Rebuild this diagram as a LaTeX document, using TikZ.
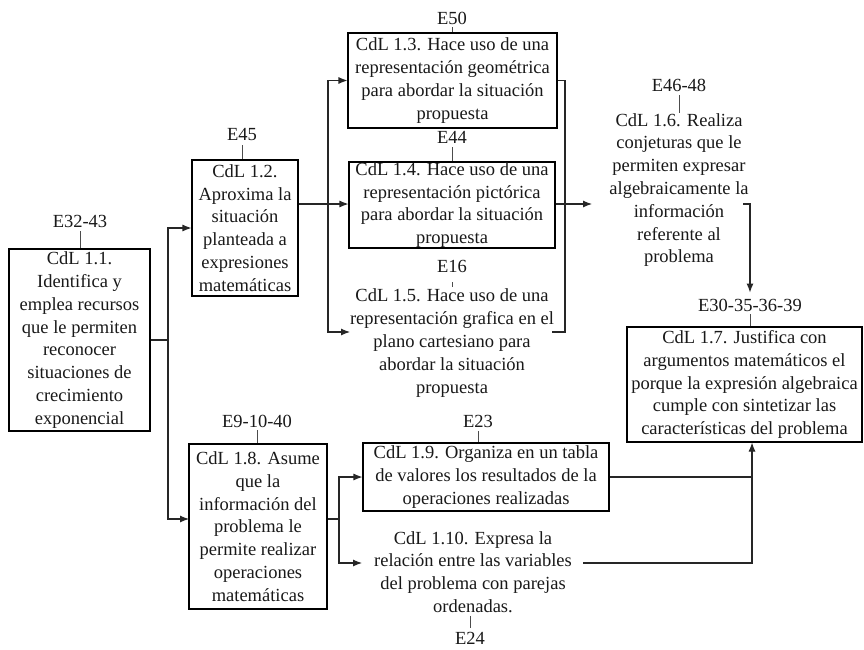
\documentclass[tikz,border=0pt]{standalone}
\usepackage{fontspec}
\setmainfont{Liberation Serif}
\usetikzlibrary{arrows.meta}
\begin{document}
\begin{tikzpicture}[x=1pt,y=-1pt,
  every node/.style={font=\fontsize{18.5}{22.8}\selectfont, align=center, inner sep=0pt, text=black!90},
  cbox/.style={draw=black, line width=1.1pt, rectangle},
  tick/.style={draw=black!70, line width=0.9pt},
  conn/.style={draw=black!85, line width=1.1pt},
  arr/.style={conn, -{Latex[length=9pt,width=7pt]}}]
\path[use as bounding box] (0,0) rectangle (864,650);
\fill[white] (0,0) rectangle (864,650);

% boxes and texts
\node[cbox, minimum width=141pt, minimum height=182pt] (b11) at (79.5,340) {CdL 1.1.\\Identifica y\\emplea recursos\\que le permiten\\reconocer\\situaciones de\\crecimiento\\exponencial};
\node[cbox, minimum width=106pt, minimum height=136pt] (b12) at (245,228) {CdL 1.2.\\Aproxima la\\situación\\planteada a\\expresiones\\matemáticas};
\node[cbox, minimum width=209pt, minimum height=95pt] (b13) at (452.5,80.5) {CdL 1.3. Hace uso de una\\representación geométrica\\para abordar la situación\\propuesta};
\node[cbox, minimum width=206pt, minimum height=86pt] (b14) at (452,205) {CdL 1.4. Hace uso de una\\representación pictórica\\para abordar la situación\\propuesta};
\node (n15) at (452,343) {CdL 1.5. Hace uso de una\\representación grafica en el\\plano cartesiano para\\abordar la situación\\propuesta};
\node (n16) at (679,190) {CdL 1.6. Realiza\\conjeturas que le\\permiten expresar\\algebraicamente la\\información\\referente al\\problema};
\node[cbox, minimum width=235pt, minimum height=115pt] (b17) at (744.5,384.5) {CdL 1.7. Justifica con\\argumentos matemáticos el\\porque la expresión algebraica\\cumple con sintetizar las\\características del problema};
\node[cbox, minimum width=138pt, minimum height=165pt] (b18) at (258,526.5) {CdL 1.8. Asume\\que la\\información del\\problema le\\permite realizar\\operaciones\\matemáticas};
\node[cbox, minimum width=246pt, minimum height=68pt] (b19) at (486,477) {CdL 1.9. Organiza en un tabla\\de valores los resultados de la\\operaciones realizadas};
\node (n110) at (473,572) {CdL 1.10. Expresa la\\relación entre las variables\\del problema con parejas\\ordenadas.};

% labels
\node (e1) at (80,221) {E32-43};
\node (e2) at (242,135) {E45};
\node (e3) at (452,18) {E50};
\node (e4) at (452,137) {E44};
\node (e5) at (452,266) {E16};
\node (e6) at (679,85) {E46-48};
\node (e7) at (750,305) {E30-35-36-39};
\node (e8) at (257,421) {E9-10-40};
\node (e9) at (478,421) {E23};
\node (e10) at (470,638) {E24};

% ticks
\draw[tick, shorten <=4pt] (e1.south) -- (e1.south |- b11.north);
\draw[tick, shorten <=4pt] (e2.south) -- (e2.south |- b12.north);
\draw[tick, shorten <=3pt] (e3.south) -- (e3.south |- b13.north);
\draw[tick, shorten <=4pt] (e4.south) -- (e4.south |- b14.north);
\draw[tick, shorten <=10pt, shorten >=2pt] (e5.south) -- (e5.south |- n15.north);
\draw[tick, shorten <=4pt] (e6.south) -- (e6.south |- n16.north);
\draw[tick, shorten <=3pt] (e7.south) -- (e7.south |- b17.north);
\draw[tick, shorten <=3pt] (e8.south) -- (e8.south |- b18.north);
\draw[tick, shorten <=4pt] (e9.south) -- (e9.south |- b19.north);
\draw[tick, shorten <=3pt, shorten >=4pt] (n110.south -| e10.north) -- (e10.north);

% coordinates
\coordinate (bus1) at (168,0);
\coordinate (bus2) at (328,0);
\coordinate (bus3) at (565,0);
\coordinate (bus4) at (339,0);
\coordinate (bus5) at (752,0);
\coordinate (in18) at (189,519);
\coordinate (in15) at (350,332);
\coordinate (out15) at (552,332);
\coordinate (in16) at (592,204);
\coordinate (out16) at (743,204);
\coordinate (in110) at (362,563);
\coordinate (out110) at (583,563);

% connectors
\draw[conn] (b11.east) -- (b11.east -| bus1);
\draw[arr] (b11.east -| bus1) |- (b12.west);
\draw[arr] (b11.east -| bus1) |- (in18);

\draw[arr] (b12.east |- in16) -- (b14.west |- in16);
\draw[arr] (in16 -| bus2) |- (b13.west);
\draw[arr] (in16 -| bus2) |- (in15);

\draw[conn] (b13.east) -| (out15 -| bus3) -- (out15);
\draw[arr] (b14.east |- in16) -- (in16);

\draw[arr, shorten >=6pt] (out16) -| (e7.north);

\draw[conn] (b18.east |- in18) -- (in18 -| bus4);
\draw[arr] (in18 -| bus4) |- (b19.west);
\draw[arr] (in18 -| bus4) |- (in110);

\draw[conn] (b19.east) -- (b19.east -| bus5);
\draw[arr] (out110) -| (b17.south -| bus5);
\end{tikzpicture}
\end{document}
